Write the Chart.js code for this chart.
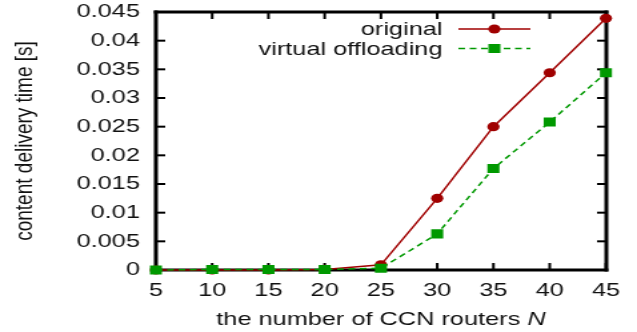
<!DOCTYPE html>
<html>
<head>
<meta charset="utf-8">
<script src="https://cdn.jsdelivr.net/npm/chart.js@4.4.1/dist/chart.umd.min.js"></script>
<style>
  html, body { margin: 0; padding: 0; background: #fff; overflow: hidden; }
  /* the figure is laid out narrow and widened horizontally, giving the stretched lettering */
  #wrap { width: 478px; height: 332px; transform: scaleX(1.3326); transform-origin: 0 0; }
  canvas { display: block; }
</style>
</head>
<body>
<div id="wrap"><canvas id="c" width="478" height="332"></canvas></div>
<script>
// routers in the network
const routerCounts = [5, 10, 15, 20, 25, 30, 35, 40, 45];
// content delivery time [s]
const originalTimes = [0, 0, 0, 0.0001, 0.0009, 0.0125, 0.0250, 0.0344, 0.0439];
const offloadingTimes = [0, 0.0001, 0.0001, 0.0001, 0.0003, 0.0063, 0.0177, 0.0258, 0.0344];
const xTicks = [5, 10, 15, 20, 25, 30, 35, 40, 45];
const yTicks = [0, 0.005, 0.01, 0.015, 0.02, 0.025, 0.03, 0.035, 0.04, 0.045];
const seriesNames = ['original', 'virtual offloading'];
const xTitle = 'the number of CCN routers ';
const xTitleSymbol = 'N';
const yTitle = 'content delivery time [s]';

const RED = '#a00000';
const GREEN = '#009900';
const FONT = '"Liberation Sans", Arial, Helvetica, sans-serif';

// thick border with inward ticks mirrored on every side, built from filled bars
function drawFrame(chart) {
  const ctx = chart.ctx;
  const a = chart.chartArea;
  const sx = chart.scales.x, sy = chart.scales.y;
  const L = Math.round(a.left), R = Math.round(a.right);
  const T = Math.round(a.top), B = Math.round(a.bottom);
  const len = 7, tw = 2, bw = 3;
  ctx.save();
  ctx.fillStyle = '#000';
  xTicks.forEach(v => {
    const x = sx.getPixelForValue(v);
    ctx.fillRect(x - tw / 2, B - len, tw, len);
    ctx.fillRect(x - tw / 2, T, tw, len);
  });
  yTicks.forEach(v => {
    const y = sy.getPixelForValue(v);
    ctx.fillRect(L, y - tw / 2, len, tw);
    ctx.fillRect(R - len, y - tw / 2, len, tw);
  });
  ctx.fillRect(L - bw / 2, T - bw / 2, R - L + bw, bw);
  ctx.fillRect(L - bw / 2, B - bw / 2, R - L + bw, bw);
  ctx.fillRect(L - bw / 2, T - bw / 2, bw, B - T + bw);
  ctx.fillRect(R - bw / 2, T - bw / 2, bw, B - T + bw);
  ctx.restore();
}

const framePlugin = {
  id: 'gpframe',
  // frame goes under the curves so the markers sit above the border
  beforeDatasetsDraw(chart) { drawFrame(chart); },
  afterDraw(chart) {
    const { ctx, chartArea: a } = chart;
    ctx.save();
    ctx.fillStyle = '#111';
    // x axis title with italic symbol
    ctx.font = '19px ' + FONT;
    const w1 = ctx.measureText(xTitle).width;
    ctx.font = 'italic 19px ' + FONT;
    const w2 = ctx.measureText(xTitleSymbol).width;
    const cx = (a.left + a.right) / 2;
    const x0 = cx - (w1 + w2) / 2;
    ctx.textBaseline = 'alphabetic';
    ctx.textAlign = 'left';
    ctx.font = '19px ' + FONT;
    ctx.fillText(xTitle, x0, 325);
    ctx.font = 'italic 19px ' + FONT;
    ctx.fillText(xTitleSymbol, x0 + w1, 325);
    // y axis title
    ctx.font = '19px ' + FONT;
    ctx.translate(24, (a.top + a.bottom) / 2);
    ctx.rotate(-Math.PI / 2);
    ctx.textAlign = 'center';
    ctx.fillText(yTitle, 0, 0);
    ctx.restore();

    // key in the upper right corner
    ctx.save();
    const rows = [
      { label: seriesNames[0], color: RED, dash: [], style: 'circle', r: 4.6, y: 29 },
      { label: seriesNames[1], color: GREEN, dash: [5, 3.5], style: 'rect', r: 6.4, y: 48.5 }
    ];
    rows.forEach(row => {
      ctx.fillStyle = '#111';
      ctx.font = '19px ' + FONT;
      ctx.textAlign = 'right';
      ctx.textBaseline = 'middle';
      ctx.fillText(row.label, 332, row.y + 1);
      ctx.strokeStyle = row.color;
      ctx.lineWidth = 1.5;
      ctx.setLineDash(row.dash);
      ctx.beginPath();
      ctx.moveTo(344, row.y); ctx.lineTo(398, row.y);
      ctx.stroke();
      ctx.setLineDash([]);
      ctx.beginPath();
      if (row.style === 'circle') {
        ctx.arc(371, row.y, row.r, 0, Math.PI * 2);
      } else {
        const h = row.r * Math.SQRT1_2;
        ctx.rect(371 - h, row.y - h, 2 * h, 2 * h);
      }
      ctx.fillStyle = row.color;
      ctx.fill();
    });
    ctx.restore();
  }
};

new Chart(document.getElementById('c'), {
  type: 'line',
  data: {
    labels: routerCounts,
    datasets: [
      {
        label: seriesNames[1],
        data: routerCounts.map((n, i) => ({ x: n, y: offloadingTimes[i] })),
        borderColor: GREEN,
        backgroundColor: GREEN,
        borderWidth: 1.5,
        borderDash: [5, 3.5],
        pointStyle: 'rect',
        pointRadius: 6.4,
        pointBorderWidth: 0,
        pointBackgroundColor: GREEN,
        clip: 10,
        order: 0
      },
      {
        label: seriesNames[0],
        data: routerCounts.map((n, i) => ({ x: n, y: originalTimes[i] })),
        borderColor: RED,
        backgroundColor: RED,
        borderWidth: 1.5,
        pointStyle: 'circle',
        pointRadius: 4.6,
        pointBorderWidth: 0,
        pointBackgroundColor: RED,
        clip: 10,
        order: 1
      }
    ]
  },
  options: {
    responsive: false,
    animation: false,
    devicePixelRatio: 1,
    layout: { padding: { top: 12, right: 23.3, bottom: 0, left: 0 } },
    plugins: { legend: { display: false }, tooltip: { enabled: false } },
    scales: {
      x: {
        type: 'linear',
        min: 5, max: 45,
        afterBuildTicks: s => { s.ticks = xTicks.map(v => ({ value: v })); },
        afterFit: s => { s.height = 62; s.paddingLeft = 0; s.paddingRight = 0; },
        grid: { display: false, drawTicks: false },
        border: { display: false },
        ticks: { color: '#111', padding: 9, maxRotation: 0, font: { family: FONT, size: 19 } }
      },
      y: {
        min: 0, max: 0.045,
        afterBuildTicks: s => { s.ticks = yTicks.map(v => ({ value: v })); },
        afterFit: s => { s.width = 117; s.paddingTop = 0; s.paddingBottom = 0; },
        grid: { display: false, drawTicks: false },
        border: { display: false },
        ticks: {
          color: '#111', padding: 12, font: { family: FONT, size: 19 },
          callback: v => String(+Number(v).toFixed(3))
        }
      }
    }
  },
  plugins: [framePlugin]
});
</script>
</body>
</html>
